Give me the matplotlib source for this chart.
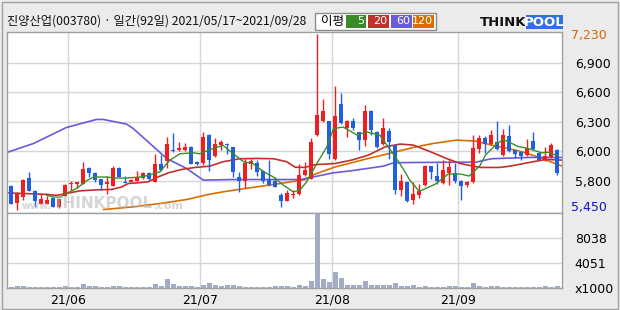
import numpy as np
import matplotlib.pyplot as plt
from matplotlib.patches import Rectangle
from matplotlib.transforms import blended_transform_factory

plt.rcParams['font.family'] = ['Noto Sans CJK KR', 'DejaVu Sans']

title = "진양산업(003780) · 일간(92일) 2021/05/17~2021/09/28"

opens = [5690, 5520, 5580, 5780, 5640, 5510, 5510, 5570, 5480, 5590,
         5710, 5710, 5710, 5880, 5830, 5770, 5710, 5690, 5880, 5740,
         5740, 5750, 5780, 5830, 5740, 5920, 5950, 6060, 6060, 6060,
         6090, 5940, 5930, 6210, 6000, 6110, 6120, 6090, 5790, 5750,
         5920, 5930, 5850, 5760, 5750, 5600, 5540, 5600, 5610, 5810,
         5770, 6210, 6350, 6350, 5970, 6520, 6280, 6350, 6240, 6160,
         6450, 6240, 6120, 6250, 6110, 5650, 5740, 5550, 5600, 5700,
         5900, 5800, 5720, 5830, 5830, 5750, 5700, 5730, 6070, 6180,
         6120, 6140, 6010, 6200, 6060, 6040, 6010, 6150, 6030, 5960,
         5990, 6060]
highs = [5700, 5630, 5770, 5840, 5650, 5610, 5590, 5590, 5560, 5710,
         5750, 5740, 5940, 5890, 5840, 5770, 5800, 5900, 5890, 5800,
         5770, 5850, 5840, 5840, 6020, 6010, 6190, 6230, 6140, 6130,
         6100, 5950, 6240, 6220, 6180, 6160, 6130, 6090, 5840, 5970,
         5970, 5960, 5860, 5960, 5790, 5620, 5650, 5650, 5920, 5940,
         6180, 7230, 6570, 6350, 6700, 6630, 6360, 6380, 6240, 6510,
         6460, 6250, 6380, 6280, 6110, 5820, 5750, 5740, 5710, 5910,
         5900, 5930, 5960, 5960, 5930, 5760, 5750, 6210, 6210, 6200,
         6260, 6350, 6270, 6310, 6060, 6050, 6170, 6240, 6040, 6090,
         6130, 6070]
lows = [5510, 5450, 5550, 5640, 5480, 5510, 5510, 5480, 5470, 5590,
        5650, 5670, 5710, 5790, 5730, 5650, 5610, 5690, 5790, 5720,
        5730, 5750, 5770, 5760, 5740, 5850, 5880, 6040, 6050, 6050,
        5920, 5910, 5910, 5850, 5990, 6060, 6020, 5790, 5630, 5670,
        5870, 5800, 5720, 5690, 5680, 5480, 5540, 5570, 5600, 5800,
        5770, 6200, 6340, 5970, 5960, 6320, 6190, 6260, 6060, 6100,
        6210, 6080, 6110, 5970, 5610, 5590, 5530, 5510, 5570, 5690,
        5770, 5710, 5710, 5700, 5720, 5550, 5680, 5720, 6030, 6030,
        6110, 6060, 6000, 6040, 5980, 5960, 6000, 6060, 5960, 5950,
        5980, 5810]
closes = [5510, 5610, 5760, 5640, 5540, 5560, 5550, 5480, 5560, 5700,
          5720, 5730, 5870, 5830, 5760, 5700, 5730, 5880, 5790, 5720,
          5750, 5790, 5830, 5770, 5920, 5860, 6120, 6050, 6080, 6090,
          5920, 5920, 6190, 5960, 6120, 6140, 6110, 5840, 5750, 5930,
          5950, 5840, 5750, 5700, 5680, 5540, 5620, 5610, 5810, 5860,
          6140, 6410, 6450, 6020, 6400, 6330, 6350, 6280, 6160, 6450,
          6260, 6090, 6280, 6140, 5650, 5750, 5540, 5610, 5640, 5900,
          5840, 5750, 5860, 5890, 5750, 5690, 5730, 6080, 6180, 6120,
          6210, 6070, 6210, 6050, 6020, 6000, 6080, 6070, 5960, 6000,
          6110, 5830]
volumes = [216, 378, 378, 270, 216, 216, 216, 216, 270, 378,
           270, 270, 700, 378, 378, 216, 216, 378, 378, 216,
           216, 216, 216, 216, 700, 378, 1512, 700, 378, 378,
           378, 216, 540, 864, 540, 378, 540, 540, 378, 216,
           216, 216, 216, 216, 378, 378, 378, 216, 540, 378,
           1188, 11880, 1512, 1026, 2646, 1674, 540, 540, 540, 1188,
           540, 540, 540, 540, 864, 378, 378, 540, 216, 378,
           216, 216, 216, 378, 378, 216, 216, 864, 378, 216,
           378, 378, 216, 216, 216, 216, 216, 216, 216, 378,
           216, 378]

# moving averages (candle index, price)
ma5_x = [5.9, 7, 8.1, 9.2, 10.9, 12.6, 13.7, 15.9, 17.6, 19.2, 21.4, 23.1, 24.8, 26.4,
         28.1, 30.3, 31.4, 33.7, 35.3, 37, 38.7, 40.3, 42, 43.7, 45.3, 47, 48.1, 49.2,
         50.9, 52.6, 53.7, 55.3, 57.6, 59.2, 61.4, 63.7, 65.3, 66.4, 68, 70.7, 72.8,
         74.9, 76.3, 78.1, 79, 80.9, 82, 83.4, 84.4, 86, 88.4, 89.5, 91]
ma5_y = [5600, 5585, 5580, 5620, 5670, 5750, 5785, 5785, 5775, 5775, 5785, 5805, 5840, 5955,
         6020, 6030, 6020, 6075, 6105, 6020, 5940, 5920, 5840, 5785, 5705, 5635, 5655, 5735,
         5920, 6090, 6275, 6290, 6210, 6240, 6210, 6015, 5870, 5755, 5640, 5715, 5815,
         5815, 5795, 5900, 6005, 6120, 6165, 6125, 6095, 6075, 6030, 6035, 6000]
ma20_x = [-0.7, 5.9, 7.6, 9.2, 11.4, 13.9, 16.7, 18.4, 19.5, 21.2, 22.8, 24.5, 26.2, 28.4,
          30.6, 33.1, 35.3, 38.1, 40.9, 43.7, 45.9, 47.3, 48.9, 50.6, 54, 56.7, 59.5,
          62.3, 64.8, 67, 70.3, 72.5, 74.8, 78.1, 81.4, 83.1, 87, 89.2, 91.8]
ma20_y = [5625, 5610, 5600, 5620, 5645, 5655, 5660, 5685, 5720, 5727, 5737, 5787, 5828, 5862,
          5882, 5895, 5940, 5970, 5973, 5970, 5940, 5885, 5882, 5910, 5922, 5956, 6006,
          6090, 6118, 6108, 6030, 5973, 5922, 5882, 5882, 5895, 5940, 5963, 5956]
ma60_x = [-0.7, 3.7, 9.2, 14.2, 15.3, 19.2, 20.3, 23.1, 25.9, 29.2, 32, 37, 42.6, 48.2,
          50.4, 53.7, 56.6, 62, 63.7, 67, 77.5, 80, 86.2, 91.8]
ma60_y = [6034, 6124, 6286, 6367, 6367, 6320, 6276, 6124, 5973, 5872, 5754, 5760, 5760, 5760,
          5787, 5828, 5848, 5895, 5929, 5932, 5936, 5970, 5983, 5983]
ma120_x = [15.4, 20.3, 24.8, 29.2, 33.1, 35.3, 40.9, 44.8, 49, 50.6, 54, 56.7, 59.5, 62.3,
           67, 70.3, 74.2, 77.4, 80, 82.8, 84.5, 86.4, 88.4, 91.8]
ma120_y = [5457, 5484, 5518, 5558, 5612, 5636, 5686, 5720, 5760, 5814, 5888, 5929, 5973, 6013,
           6084, 6124, 6158, 6148, 6108, 6074, 6050, 6016, 5973, 5895]

price_grid = [6935, 6640, 6345, 6045, 5750]
price_labels = ['6,900', '6,600', '6,300', '6,000', '5,800']
vol_ticks = [0, 4051, 8038]
vol_labels = ['x1000', '4051', '8038']
month_starts = [10, 32, 54, 75]
month_labels = ['21/06', '21/07', '21/08', '21/09']

UP, DOWN = '#f01e1e', '#1f5fe0'
C5, C20, C60, C120 = '#3a8c28', '#c0302c', '#6a5adc', '#dc6e00'
GRID = '#d6d6d6'
W, H = 620, 310

fig = plt.figure(figsize=(6.2, 3.1), dpi=100, facecolor='#ebebeb')


def fx(px):
    return px / W


def fy(py):
    return 1 - py / H


ax = fig.add_axes([fx(7.3), fy(212.5), fx(555), 180.8 / H])
axv = fig.add_axes([fx(7.3), fy(288.3), fx(555), 75.8 / H])

idx = np.arange(len(opens))
o, h, l, c = map(np.array, (opens, highs, lows, closes))
col = np.where(c >= o, UP, DOWN)
body_lo = np.minimum(o, c)
body_h = np.maximum(np.abs(c - o), 12)

ax.vlines(idx, l, h, colors=col, lw=1, zorder=3)
ax.bar(idx, body_h, bottom=body_lo, width=0.7, color=col, zorder=4)

ax.plot(ma120_x, ma120_y, color=C120, lw=1.2, zorder=2)
ax.plot(ma60_x, ma60_y, color=C60, lw=1.2, zorder=2)
ax.plot(ma20_x, ma20_y, color=C20, lw=1.2, zorder=2)
ax.plot(ma5_x, ma5_y, color=C5, lw=1.0, zorder=5)

xlim = (-0.667, 91.83)
ax.set_xlim(*xlim)
ax.set_ylim(5427, 7253)
axv.set_xlim(*xlim)
axv.set_ylim(0, 12100)

axv.bar(idx, volumes, width=0.8, color='#a3abc7', zorder=3)

bounds = [m - 0.5 for m in month_starts]
for a in (ax, axv):
    a.set_facecolor('white')
    a.set_xticks(bounds)
    a.grid(True, color=GRID, lw=1, zorder=0)
    a.set_axisbelow(True)
    for s in a.spines.values():
        s.set_color('#a0a0a0')
        s.set_linewidth(1)
    a.tick_params(length=0, labelleft=False, labelright=True, pad=9,
                  labelsize=9, labelfontfamily='DejaVu Sans')

ax.set_yticks(price_grid)
ax.set_yticklabels(price_labels)
ax.tick_params(labelbottom=False)
axv.set_yticks(vol_ticks)
axv.set_yticklabels(vol_labels)
axv.set_xticklabels(month_labels)
axv.tick_params(axis='x', pad=4)

tr = blended_transform_factory(ax.transAxes, ax.transData)
ax.text(1.0 + 9 / 555, max(highs) - 20, f"{max(highs):,}", transform=tr, color='#d86a00',
        fontsize=9, va='center', family='DejaVu Sans')
ax.text(1.0 + 9 / 555, min(lows) + 30, f"{min(lows):,}", transform=tr, color='#1010d0',
        fontsize=9, va='center', family='DejaVu Sans')

# watermark, pieces placed one after another
renderer = fig.canvas.get_renderer()
x_px = 22
for piece, size, dy in [("www.", 7, 206), ("THINKPOOL", 11, 203), (".com", 8, 206)]:
    t = fig.text(fx(x_px), fy(dy), piece, color='#b4b4b4', alpha=0.55, fontsize=size,
                 fontweight='bold', va='center', family='DejaVu Sans', zorder=10)
    x_px += t.get_window_extent(renderer).width + 1

# header
fig.text(fx(7), fy(21), title, fontsize=8.8, va='center', color='#111111')

fig.add_artist(Rectangle((fx(315), fy(30)), fx(121), 17 / H, transform=fig.transFigure,
                         facecolor='white', edgecolor='#8c8c8c', lw=1))
fig.text(fx(321), fy(21.5), "이평", fontsize=9, va='center')
legend_items = [('5', C5, 346, 20), ('20', C20, 368, 21), ('60', C60, 391, 21), ('120', C120, 413, 21)]
for lab, cc, x0, w in legend_items:
    fig.add_artist(Rectangle((fx(x0), fy(28)), fx(w), 13 / H, transform=fig.transFigure,
                             facecolor=cc, edgecolor='none'))
    fig.text(fx(x0 + w - 1.5), fy(21.5), lab, fontsize=8, color='white', va='center',
             ha='right', family='DejaVu Sans')

# logo
fig.text(fx(480), fy(22), "THINK", fontsize=9.5, fontweight='bold', va='center',
         family='DejaVu Sans', color='#111111')
fig.add_artist(Rectangle((fx(526), fy(29)), fx(37), 14 / H, transform=fig.transFigure,
                         facecolor='#3070e0', edgecolor='none'))
fig.text(fx(544.5), fy(22), "POOL", fontsize=9.5, fontweight='bold', va='center', ha='center',
         family='DejaVu Sans', color='white')

fig.add_artist(Rectangle((fx(1.5), fy(308.5)), fx(616), 307 / H, transform=fig.transFigure,
                         facecolor='none', edgecolor='#a0a0a0', lw=1))

fig.savefig('out.png', dpi=100, facecolor=fig.get_facecolor())
